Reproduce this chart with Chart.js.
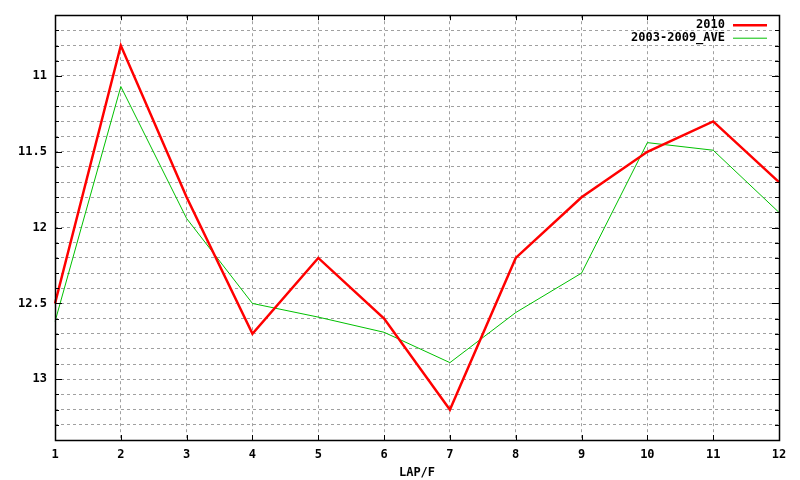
<!DOCTYPE html>
<html>
<head>
<script src="https://cdn.jsdelivr.net/npm/chart.js@4.4.0/dist/chart.umd.min.js"></script>
<style>
    body { margin: 0; background: #fff; }
    .chartBox { width: 800px; height: 480px; }
</style>
</head>
<body>

<div class="chartBox">
    <canvas id="lapChart"></canvas>
</div>

<script>
// data
const laps = ['1', '2', '3', '4', '5', '6', '7', '8', '9', '10', '11', '12'];
const times2010 = [12.5, 10.8, 11.8, 12.7, 12.2, 12.6, 13.2, 12.2, 11.8, 11.5, 11.3, 11.7];
const timesAve = [12.62, 11.07, 11.94, 12.5, 12.59, 12.69, 12.89, 12.56, 12.3, 11.44, 11.49, 11.9];
const yLabels = [11, 11.5, 12, 12.5, 13];
const yMin = 10.6;
const yMax = 13.4;

//Global Options
Chart.defaults.font.family = 'DejaVu Sans Mono';
Chart.defaults.font.size = 12;
Chart.defaults.font.weight = 'bold';
Chart.defaults.color = '#000';

function labelFor(value) {
    const hit = yLabels.find(v => Math.abs(v - value) < 1e-6);
    return hit === undefined ? '' : String(hit);
}

// box, inward tick marks and legend inside the plot, gnuplot style
const framePlugin = {
    id: 'frame',
    afterDraw(chart) {
        const ctx = chart.ctx;
        const a = chart.chartArea;
        const x = chart.scales.x;
        const y = chart.scales.y;
        ctx.save();
        ctx.strokeStyle = '#000';
        ctx.lineWidth = 1;
        ctx.beginPath();
        y.ticks.forEach(t => {
            const py = Math.round(y.getPixelForValue(t.value)) + 0.5;
            const len = labelFor(t.value) ? 7 : 4;
            ctx.moveTo(a.left, py); ctx.lineTo(a.left + len, py);
            ctx.moveTo(a.right, py); ctx.lineTo(a.right - len, py);
        });
        laps.forEach((l, i) => {
            const px = Math.round(x.getPixelForValue(i)) + 0.5;
            ctx.moveTo(px, a.bottom); ctx.lineTo(px, a.bottom - 5);
            ctx.moveTo(px, a.top); ctx.lineTo(px, a.top + 5);
        });
        ctx.stroke();
        ctx.lineWidth = 1.5;
        ctx.strokeRect(Math.round(a.left) + 0.5, Math.round(a.top) + 0.5,
            Math.round(a.right - a.left), Math.round(a.bottom - a.top));

        // legend
        ctx.font = 'bold 12px "DejaVu Sans Mono"';
        ctx.textAlign = 'right';
        ctx.textBaseline = 'middle';
        chart.data.datasets.forEach((ds, i) => {
            const ly = a.top + 10 + i * 13;
            ctx.fillStyle = '#000';
            ctx.fillText(ds.label, a.right - 54, ly);
            ctx.strokeStyle = ds.borderColor;
            ctx.lineWidth = ds.borderWidth;
            ctx.beginPath();
            ctx.moveTo(a.right - 46, ly);
            ctx.lineTo(a.right - 12, ly);
            ctx.stroke();
        });
        ctx.restore();
    }
};

const data = {
    labels: laps,
    datasets: [{
        label: '2010',
        data: times2010,
        borderColor: '#ff0000',
        borderWidth: 2.5,
        pointRadius: 0,
        tension: 0
    }, {
        label: '2003-2009_AVE',
        data: timesAve,
        borderColor: '#00c000',
        borderWidth: 1,
        pointRadius: 0,
        tension: 0
    }]
};

const gridStyle = {
    color: '#a0a0a0',
    lineWidth: 1,
    drawTicks: false
};

const config = {
    type: 'line',
    data,
    options: {
        responsive: true,
        maintainAspectRatio: false,
        animation: false,
        layout: {
            padding: { top: 13, right: 21, left: 0, bottom: 0 }
        },
        plugins: {
            legend: { display: false },
            tooltip: { enabled: false }
        },
        scales: {
            x: {
                offset: false,
                grid: gridStyle,
                border: { display: false, dash: [3, 3] },
                ticks: { padding: 8, autoSkip: false, maxRotation: 0 },
                title: {
                    display: true,
                    text: 'LAP/F',
                    font: { size: 12, weight: 'bold' },
                    padding: { top: 4, bottom: 0 }
                },
                afterFit: s => { s.height = 40; }
            },
            y: {
                reverse: true,
                min: yMin,
                max: yMax,
                grid: gridStyle,
                border: { display: false, dash: [3, 3] },
                ticks: {
                    stepSize: 0.1,
                    autoSkip: false,
                    padding: 8,
                    callback: value => labelFor(value)
                },
                afterFit: s => { s.width = 55; }
            }
        }
    },
    plugins: [framePlugin]
};

const lapChart = new Chart(document.getElementById('lapChart'), config);
</script>

</body>
</html>
